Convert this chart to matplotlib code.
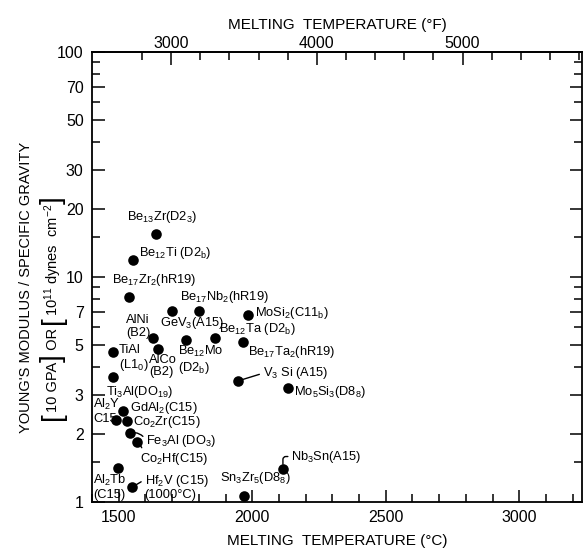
import matplotlib
matplotlib.use("Agg")
import matplotlib.pyplot as plt
from matplotlib import font_manager
from matplotlib.ticker import FixedLocator, FixedFormatter, NullFormatter

# ---- data -------------------------------------------------------------
compounds = [
    "Be$_{13}$Zr(D2$_3$)", "Be$_{12}$Ti (D2$_b$)", "Be$_{17}$Zr$_2$(hR19)",
    "Be$_{17}$Nb$_2$(hR19)", "GeV$_3$(A15)", "AlNi\n(B2)", "Be$_{12}$Mo\n(D2$_b$)",
    "Be$_{12}$Ta (D2$_b$)", "MoSi$_2$(C11$_b$)", "Be$_{17}$Ta$_2$(hR19)",
    "V$_3$ Si (A15)", "Mo$_5$Si$_3$(D8$_8$)", "TiAl\n(L1$_0$)", "AlCo\n(B2)",
    "Ti$_3$Al(DO$_{19}$)", "GdAl$_2$(C15)", "Al$_2$Y\nC15", "Co$_2$Zr(C15)",
    "Fe$_3$Al (DO$_3$)", "Co$_2$Hf(C15)", "Al$_2$Tb\n(C15)",
    "Hf$_2$V (C15)\n(1000°C)", "Sn$_3$Zr$_5$(D8$_8$)", "Nb$_3$Sn(A15)",
]
melting_c = [1639, 1552, 1540, 1799, 1700, 1630, 1751, 1861, 1986, 1966,
             1946, 2134, 1480, 1648, 1478, 1515, 1490, 1530, 1544, 1568,
             1496, 1548, 1969, 2115]
specific_modulus = [15.5, 11.9, 8.12, 7.08, 7.06, 5.36, 5.26, 5.37, 6.80, 5.13,
                    3.45, 3.20, 4.63, 4.80, 3.58, 2.54, 2.31, 2.28, 2.03, 1.84,
                    1.41, 1.16, 1.06, 1.40]

x_major = [1500, 2000, 2500, 3000]
y_major = [1, 2, 3, 5, 7, 10, 20, 30, 50, 70, 100]
y_major_labels = ["1", "2", "3", "5", "7", "10", "20", "30", "50", "70", "100"]
y_minor = [1.5, 4, 6, 8, 9, 15, 40, 60, 80, 90]
f_major = [3000, 4000, 5000]

# ---- label layout (pixel offsets from each marker) ---------------------
label_offsets = [
    (6.4, 17.3, "center"), (6.7, 7, "left"), (-17.7, 17.3, "left"),
    (-19, 13.4, "left"), (-11.7, -12, "left"), (-27.3, 11.5, "left"),
    (-7.3, -20.3, "left"), (3.8, 9.2, "left"), (7, 1.7, "left"),
    (4.6, -9.4, "left"), (25, 7.7, "left"), (5.7, -3.7, "left"),
    (5.3, -6.2, "left"), (-9.4, -17.3, "left"), (-7.3, -14.4, "left"),
    (7.4, 3.3, "left"), (-22.7, 9.3, "left"), (6, -1, "left"),
    (15.7, -8, "left"), (2.7, -16.7, "left"), (-24.3, -18.7, "left"),
    (13, 0.6, "left"), (-23.6, 18.4, "left"), (8.4, 12.6, "left"),
]
# leader lines: index -> (relpos on text, connection style)
leaders = {
    4: ((0.15, 1.0), "arc3,rad=0.5"),
    10: ((0.0, 0.5), "arc3,rad=0"),
    18: ((0.0, 0.5), "arc3,rad=0.35"),
    19: ((0.05, 1.0), "arc3,rad=0.2"),
    21: ((0.0, 0.75), "arc3,rad=0"),
    23: ((0.0, 0.5), "angle,angleA=0,angleB=90,rad=3"),
}

# ---- fonts --------------------------------------------------------------
names = {f.name for f in font_manager.fontManager.ttflist}
family = "Liberation Sans" if "Liberation Sans" in names else "DejaVu Sans"
plt.rcParams["font.family"] = [family, "DejaVu Sans"]
plt.rcParams["mathtext.fontset"] = "custom"
plt.rcParams["mathtext.rm"] = family
plt.rcParams["mathtext.it"] = family
plt.rcParams["mathtext.bf"] = family

W, H = 587, 548
fig = plt.figure(figsize=(W / 100, H / 100), dpi=100)
ax = fig.add_axes([92 / W, 1 - 502 / H, (582 - 92) / W, (502 - 52) / H])

ax.set_yscale("log")
ax.set_xlim(1400, 3235)
ax.set_ylim(1, 100)

ax.scatter(melting_c, specific_modulus, s=58, color="black", zorder=3,
           linewidths=0)

for i, (name, xc, yv) in enumerate(zip(compounds, melting_c, specific_modulus)):
    dx, dy, ha = label_offsets[i]
    arrow = None
    if i in leaders:
        rel, style = leaders[i]
        arrow = dict(arrowstyle="-", color="black", lw=1.0, relpos=rel,
                     connectionstyle=style, shrinkA=0.5, shrinkB=3.5)
    ax.annotate(name, (xc, yv), xytext=(dx, dy), textcoords="offset pixels",
                ha=ha, va="center", fontsize=9.3, multialignment="left",
                linespacing=1.05, arrowprops=arrow)

# ---- axes styling ---------------------------------------------------------
for sp in ax.spines.values():
    sp.set_linewidth(1.3)

ax.xaxis.set_major_locator(FixedLocator(x_major))
ax.xaxis.set_minor_locator(FixedLocator(range(1400, 3300, 100)))
ax.xaxis.set_minor_formatter(NullFormatter())
ax.yaxis.set_major_locator(FixedLocator(y_major))
ax.yaxis.set_major_formatter(FixedFormatter(y_major_labels))
ax.yaxis.set_minor_locator(FixedLocator(y_minor))
ax.yaxis.set_minor_formatter(NullFormatter())

ax.tick_params(which="both", direction="in", right=True, width=1.1,
               labelsize=11.5, colors="black")
ax.tick_params(which="major", length=9)
ax.tick_params(which="minor", length=6)
ax.tick_params(axis="x", pad=6)
ax.tick_params(axis="y", pad=6)

ax.set_xlabel("MELTING  TEMPERATURE (°C)", fontsize=11, labelpad=6)


def c_to_f(c):
    return 3000 + (c - 1696.5) / 0.5456


def f_to_c(f):
    return 1696.5 + (f - 3000) * 0.5456


top = ax.secondary_xaxis("top", functions=(c_to_f, f_to_c))
top.xaxis.set_major_locator(FixedLocator(f_major))
top.xaxis.set_minor_locator(FixedLocator(range(2800, 5900, 200)))
top.xaxis.set_minor_formatter(NullFormatter())
top.tick_params(which="both", direction="in", width=1.1, labelsize=11.5, pad=1)
top.tick_params(which="major", length=9)
top.tick_params(which="minor", length=6)
top.spines["top"].set_linewidth(1.3)
top.set_xlabel("MELTING  TEMPERATURE (°F)", fontsize=11, labelpad=4.5)

# ---- y-axis title: two rotated lines, the second with tall brackets ------
fig.text(26 / W, 1 - 287 / H, "YOUNG'S MODULUS / SPECIFIC GRAVITY",
         rotation=90, ha="center", va="center", fontsize=10.5)

pieces = [("[", 20), ("10 GPA", 10.5), ("]", 20), (" OR ", 10.5), ("[", 20),
          (r"10$^{11}$ dynes  cm$^{-2}$", 10.5), ("]", 20)]
renderer = fig.canvas.get_renderer()
line_x = 53 / W
texts = []
for s, fs in pieces:
    t = fig.text(line_x, 0.5, s, rotation=90, ha="center", va="bottom",
                 fontsize=fs)
    texts.append(t)
lengths = [t.get_window_extent(renderer).height for t in texts]
total = sum(lengths)
y0 = (H - 308) - total / 2
for t, ln in zip(texts, lengths):
    t.set_y(y0 / H)
    y0 += ln

fig.savefig("out.png", dpi=100)
